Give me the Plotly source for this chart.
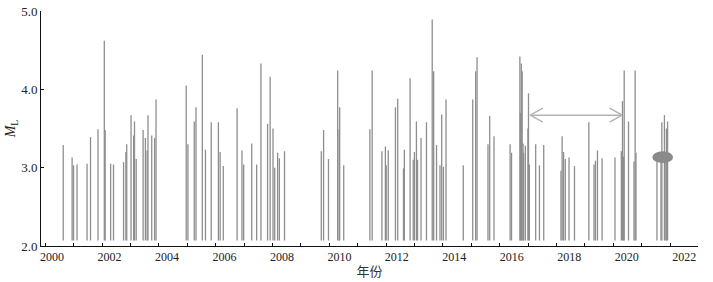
import plotly.graph_objects as go

# ---- data (decimal year, magnitude ML) ----
years = [
    2000.39, 2000.70, 2000.75, 2000.87, 2001.22, 2001.34, 2001.60, 2001.82, 2001.85,
    2002.04, 2002.14, 2002.49, 2002.57, 2002.60, 2002.75, 2002.84, 2002.87, 2002.93,
    2003.17, 2003.25, 2003.31, 2003.34, 2003.47, 2003.57, 2003.62,
    2004.67, 2004.73, 2004.95, 2005.01, 2005.23, 2005.34, 2005.54, 2005.79, 2005.85, 2005.96,
    2006.44, 2006.61, 2006.67, 2006.95, 2007.12, 2007.27, 2007.50, 2007.59, 2007.69,
    2007.75, 2007.85, 2007.91, 2008.09,
    2009.37, 2009.45, 2009.62, 2009.94, 2010.01, 2009.99, 2010.15,
    2011.06, 2011.14, 2011.48, 2011.60, 2011.63, 2011.70, 2011.95, 2012.03,
    2012.23, 2012.26, 2012.46, 2012.57, 2012.61, 2012.68, 2012.72, 2012.84,
    2013.03, 2013.23, 2013.28, 2013.38, 2013.50, 2013.56, 2013.62, 2013.71,
    2014.31, 2014.64, 2014.74, 2014.79, 2015.17, 2015.23, 2015.38, 2015.94, 2015.99,
    2016.28, 2016.30, 2016.33, 2016.36, 2016.39, 2016.41, 2016.47, 2016.56, 2016.58, 2016.61,
    2016.83, 2016.96, 2017.11,
    2017.71, 2017.75, 2017.80, 2017.86, 2017.99, 2018.18,
    2018.68, 2018.86, 2018.91, 2018.98, 2019.14,
    2019.59, 2019.81, 2019.85, 2019.89, 2019.91, 2020.06, 2020.25, 2020.29, 2020.32,
    2021.05, 2021.19, 2021.22, 2021.31, 2021.36, 2021.38, 2021.42,
]
magnitudes = [
    3.29, 3.13, 3.03, 3.04, 3.05, 3.39, 3.49, 4.62, 3.48,
    3.05, 3.04, 3.07, 3.20, 3.30, 3.67, 3.41, 3.59, 3.11,
    3.48, 3.38, 3.22, 3.67, 3.41, 3.38, 3.87,
    4.05, 3.30, 3.59, 3.77, 4.44, 3.23, 3.58, 3.58, 3.20, 3.02,
    3.76, 3.22, 3.04, 3.31, 3.04, 4.33, 3.56, 4.16, 3.50,
    3.00, 3.19, 3.12, 3.21,
    3.21, 3.48, 3.11, 4.24, 3.77, 3.49, 3.03,
    3.49, 4.24, 3.21, 3.27, 3.03, 3.22, 3.77, 3.88,
    2.99, 3.23, 4.14, 3.10, 3.20, 3.59, 3.10, 3.38,
    3.58, 4.89, 4.23, 3.29, 3.03, 3.68, 3.01, 3.87,
    3.03, 3.87, 4.23, 4.41, 3.30, 3.66, 3.40, 3.30, 3.19,
    4.42, 3.70, 4.33, 4.23, 3.31, 3.19, 3.28, 3.50, 3.95, 3.04,
    3.30, 3.03, 3.29,
    2.96, 3.40, 3.20, 3.11, 3.13, 3.02,
    3.58, 3.04, 3.09, 3.22, 3.12,
    3.13, 3.21, 3.85, 3.14, 4.24, 3.59, 3.08, 4.24, 3.19,
    3.12, 3.08, 3.58, 3.67, 3.20, 3.50, 3.59,
]
BASE_ML = 2.07

x_labels = [2000, 2002, 2004, 2006, 2008, 2010, 2012, 2014, 2016, 2018, 2020, 2022]
y_ticks = [2.0, 3.0, 4.0, 5.0]
minor_ticks = [round(1999.767 + 0.9882 * k, 3) for k in range(24)]

# annotation: double arrow and highlighted ellipse
ARROW_X0, ARROW_X1, ARROW_Y = 2016.64, 2019.84, 3.67
HEAD_DX, HEAD_DY = 0.44, 0.09
ELLIPSE_CX, ELLIPSE_CY, ELLIPSE_RX, ELLIPSE_RY = 2021.25, 3.134, 0.36, 0.075

# build vertical line segments
sx, sy = [], []
for yr, m in zip(years, magnitudes):
    sx += [yr, yr, None]
    sy += [BASE_ML, m, None]

fig = go.Figure()
fig.add_trace(go.Scatter(x=sx, y=sy, mode="lines",
                         line=dict(color="#8e8e8e", width=1.3),
                         hoverinfo="skip", showlegend=False))

# double-headed open arrow
ax = [ARROW_X0, ARROW_X1, None,
      ARROW_X0 + HEAD_DX, ARROW_X0, ARROW_X0 + HEAD_DX, None,
      ARROW_X1 - HEAD_DX, ARROW_X1, ARROW_X1 - HEAD_DX]
ay = [ARROW_Y, ARROW_Y, None,
      ARROW_Y + HEAD_DY, ARROW_Y, ARROW_Y - HEAD_DY, None,
      ARROW_Y + HEAD_DY, ARROW_Y, ARROW_Y - HEAD_DY]
fig.add_trace(go.Scatter(x=ax, y=ay, mode="lines",
                         line=dict(color="#b4b4b4", width=1.4),
                         hoverinfo="skip", showlegend=False))

fig.add_shape(type="circle", xref="x", yref="y",
              x0=ELLIPSE_CX - ELLIPSE_RX, x1=ELLIPSE_CX + ELLIPSE_RX,
              y0=ELLIPSE_CY - ELLIPSE_RY, y1=ELLIPSE_CY + ELLIPSE_RY,
              fillcolor="#8a8a8a", line=dict(width=0), layer="above")

serif = "Liberation Serif, Times New Roman, serif"
fig.update_layout(
    width=713, height=282,
    margin=dict(l=41, r=15, t=11, b=36),
    plot_bgcolor="white", paper_bgcolor="white",
    font=dict(family=serif, size=12, color="#222"),
    xaxis=dict(
        range=[1999.617, 2022.478], automargin=False,
        tickmode="array", tickvals=x_labels, ticktext=[str(v) for v in x_labels],
        ticks="", showgrid=False, zeroline=False,
        showline=True, linecolor="#111", linewidth=1,
        tickfont=dict(family=serif, size=12, color="#222"),
        minor=dict(tickmode="array", tickvals=minor_ticks, ticks="inside",
                   ticklen=3, tickcolor="#111", showgrid=False),
        title=dict(text="年份", font=dict(family="Noto Sans CJK SC", size=13, color="#333"),
                   standoff=3),
    ),
    yaxis=dict(
        range=[2.0, 5.0], automargin=False,
        tickmode="array", tickvals=y_ticks, ticktext=["%.1f" % v for v in y_ticks],
        ticks="inside", ticklen=3, tickcolor="#111",
        showgrid=False, zeroline=False,
        showline=True, linecolor="#111", linewidth=1,
        tickfont=dict(family=serif, size=13, color="#222"),
        title=dict(text="<i>M</i><sub>L</sub>", font=dict(family=serif, size=14, color="#222"),
                   standoff=2),
    ),
)

fig.write_html("out.html", config={"displayModeBar": False},
               post_script="document.body.style.margin='0';")
